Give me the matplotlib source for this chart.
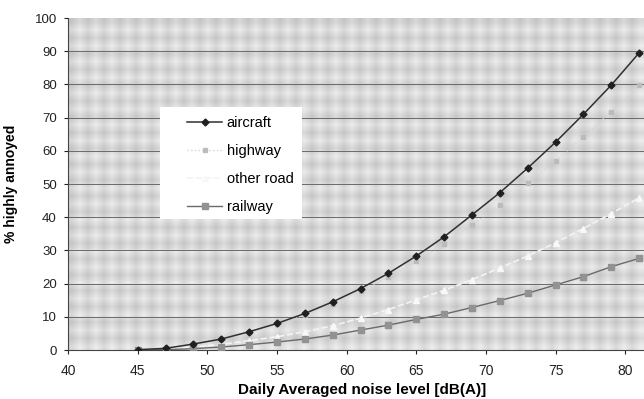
import matplotlib
matplotlib.use("Agg")
import matplotlib.pyplot as plt
from matplotlib.patches import Rectangle
import numpy as np

plt.rcParams['font.family'] = ['Liberation Sans', 'DejaVu Sans']

# noise level (dB(A)) and % highly annoyed
level = [45, 47, 49, 51, 53, 55, 57, 59, 61, 63, 65, 67, 69, 71, 73, 75, 77, 79, 81]
aircraft = [0.1, 0.5, 1.8, 3.3, 5.5, 8.0, 11.0, 14.5, 18.5, 23.1, 28.3, 34.1,
            40.7, 47.4, 54.8, 62.6, 71.0, 79.8, 89.5]
highway = [0.1, 0.5, 1.7, 3.2, 5.3, 7.7, 10.6, 14.0, 17.8, 22.0, 26.8, 32.0,
           37.6, 43.7, 50.2, 57.0, 64.2, 71.8, 79.7]
other_road = [0.0, 0.3, 0.9, 1.7, 2.8, 4.0, 5.5, 7.3, 9.6, 12.2, 15.1, 18.0,
              21.2, 24.7, 28.3, 32.3, 36.6, 41.1, 45.8]
railway = [0.0, 0.1, 0.4, 0.9, 1.6, 2.4, 3.3, 4.5, 6.0, 7.5, 9.2, 10.8,
           12.8, 14.9, 17.1, 19.6, 22.1, 25.1, 27.6]

xticks = [40, 45, 50, 55, 60, 65, 70, 75, 80]
yticks = list(range(0, 101, 10))

fig = plt.figure(figsize=(6.44, 3.99), dpi=100)
ax = fig.add_axes([0.1056, 0.1228, 0.8944, 0.832])
ax.set_facecolor('#cacaca')

# soft plaid pattern imitating the scanned grey fill
cols = np.arange(72) % 2
rows = np.arange(42) % 2
plaid = rows[:, None] + cols[None, :]
ax.imshow(plaid, cmap='gray', vmin=-10, vmax=3, extent=[0, 1, 0, 1],
          transform=ax.transAxes, aspect='auto', interpolation='bilinear',
          zorder=0)

for y in yticks[1:-1]:
    ax.axhline(y, color='#6a6a6a', lw=0.7, zorder=1)

ax.plot(level, highway, color='#d4d4d4', lw=1.0, ls=':', marker='s', ms=3.5,
        mfc='#bcbcbc', mec='#bcbcbc', label='highway', zorder=2)
ax.plot(level, other_road, color='#f4f4f4', lw=1.2, ls='--', marker='^', ms=4,
        mfc='#f8f8f8', mec='#f8f8f8', label='other road', zorder=3)
ax.plot(level, railway, color='#6a6a6a', lw=1.0, ls='-', marker='s', ms=4,
        mfc='#929292', mec='#929292', label='railway', zorder=3)
ax.plot(level, aircraft, color='#303030', lw=1.1, marker='D', ms=3.5,
        mfc='#202020', mec='#202020', label='aircraft', zorder=4)

ax.set_xlim(40, 81.35)
ax.set_ylim(0, 100)
ax.set_xticks(xticks)
ax.set_yticks(yticks)
ax.tick_params(axis='x', labelsize=10, colors='#222222', length=3, pad=7)
ax.tick_params(axis='y', labelsize=9.5, colors='#222222', length=3, pad=5)
for s in ['top', 'right']:
    ax.spines[s].set_visible(False)
ax.spines['left'].set_color('#444444')
ax.spines['bottom'].set_color('#444444')

ax.set_xlabel('Daily Averaged noise level [dB(A)]', fontsize=11,
              fontweight='bold')
ax.set_ylabel('% highly annoyed', fontsize=10, fontweight='bold', labelpad=12)
ax.xaxis.set_label_coords(0.51, -0.098)

# white legend panel
ax.add_patch(Rectangle((0.1597, 0.3946), 0.2465, 0.3373, transform=ax.transAxes,
                       facecolor='white', edgecolor='none', zorder=5))

h, l = ax.get_legend_handles_labels()
order = [3, 0, 1, 2]
leg = ax.legend([h[i] for i in order], [l[i] for i in order],
                loc='upper left', bbox_to_anchor=(0.1857, 0.742),
                fontsize=10.5, frameon=False, labelspacing=0.95,
                handlelength=2.4, handletextpad=0.3, borderaxespad=0,
                borderpad=0.85)
leg.set_zorder(6)

fig.savefig('out.png', dpi=100)
